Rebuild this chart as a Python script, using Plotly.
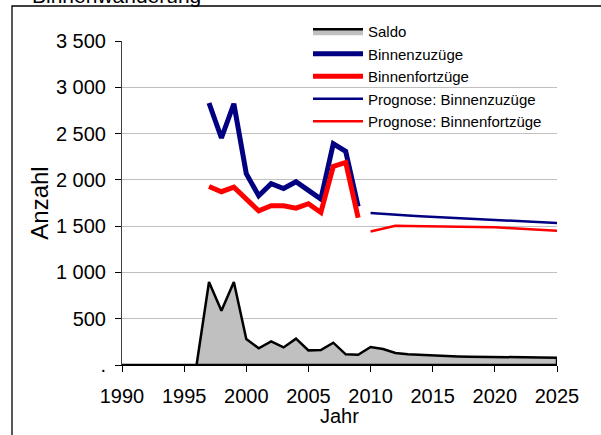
import plotly.graph_objects as go

years_saldo = list(range(1990, 2026))
saldo = [0, 0, 0, 0, 0, 0, 0, 896, 586, 896, 281, 180, 255, 190, 284, 158, 162, 241, 115, 111,
         194, 173, 130, 115, 108, 104, 98, 93, 90, 88, 86, 85, 83, 82, 80, 79]

years_hist = list(range(1997, 2010))
zuzuege = [2830, 2452, 2822, 2066, 1828, 1958, 1907, 1980, 1886, 1793, 2390, 2307, 1713]
fortzuege = [1929, 1872, 1922, 1795, 1665, 1720, 1720, 1695, 1742, 1648, 2145, 2188, 1590]

years_prog = list(range(2010, 2026))
prog_zuzuege = [1641, 1635, 1627, 1615, 1608, 1601, 1593, 1585, 1577, 1570, 1562, 1556, 1550, 1544, 1538, 1533]
prog_fortzuege = [1443, 1470, 1505, 1502, 1500, 1500, 1500, 1500, 1496, 1492, 1488, 1481, 1473, 1465, 1457, 1450]

y_tickvals = [0, 500, 1000, 1500, 2000, 2500, 3000, 3500]
y_ticktext = [".", "500", "1 000", "1 500", "2 000", "2 500", "3 000", "3 500"]
x_tickvals = [1990, 1995, 2000, 2005, 2010, 2015, 2020, 2025]

FONT = "Liberation Sans, Arial, sans-serif"

fig = go.Figure()
fig.add_trace(go.Scatter(
    x=years_saldo + [years_saldo[-1], years_saldo[0]],
    y=saldo + [0, 0],
    fill="toself", fillcolor="#c0c0c0",
    line=dict(color="black", width=2.5),
    mode="lines", name="Saldo"))
fig.add_trace(go.Scatter(x=years_hist, y=zuzuege, mode="lines", name="Binnenzuzüge",
                         line=dict(color="#000080", width=5)))
fig.add_trace(go.Scatter(x=years_hist, y=fortzuege, mode="lines", name="Binnenfortzüge",
                         line=dict(color="#ff0000", width=5)))
fig.add_trace(go.Scatter(x=years_prog, y=prog_zuzuege, mode="lines", name="Prognose: Binnenzuzüge",
                         line=dict(color="#000080", width=2.5)))
fig.add_trace(go.Scatter(x=years_prog, y=prog_fortzuege, mode="lines", name="Prognose: Binnenfortzüge",
                         line=dict(color="#ff0000", width=2.5)))

L, R, T, B = 122, 44, 41, 70
W, H = 601, 435
pw, ph = W - L - R, H - T - B

def px(x):
    return (x - L) / pw

def py(y):
    return (H - B - y) / ph

fig.update_layout(
    width=W, height=H,
    margin=dict(l=L, r=R, t=T, b=B),
    paper_bgcolor="white", plot_bgcolor="white",
    font=dict(family=FONT, size=20, color="black"),
    showlegend=True,
    legend=dict(x=px(308), y=py(15), xanchor="left", yanchor="top",
                bgcolor="rgba(0,0,0,0)", font=dict(size=15, family=FONT),
                itemwidth=50, traceorder="normal"),
    xaxis=dict(range=[1990, 2025], tickvals=x_tickvals, ticks="outside", ticklen=6,
               tickcolor="black", showgrid=False, showline=True, linecolor="black",
               linewidth=1, zeroline=False,
               ticklabelstandoff=7, tickfont=dict(size=20)),
    yaxis=dict(range=[0, 3500], tickvals=y_tickvals, ticktext=y_ticktext, ticks="outside",
               ticklen=6, tickcolor="black", showgrid=True, gridcolor="#c0c0c0", gridwidth=1,
               showline=True, linecolor="#404040", linewidth=1, zeroline=False,
               ticklabelstandoff=5,
               title=dict(text="Anzahl", standoff=0), tickfont=dict(size=20)),
    shapes=[
        dict(type="rect", xref="paper", yref="paper", x0=px(281), x1=px(600), y0=py(125), y1=py(12),
             fillcolor="white", line=dict(width=0), layer="between"),
        dict(type="rect", xref="paper", yref="paper", x0=px(12), x1=px(640), y0=py(470), y1=py(6),
             fillcolor="rgba(0,0,0,0)", line=dict(color="black", width=1.3), layer="above"),
    ],
    annotations=[
        dict(text="Binnenwanderung", xref="paper", yref="paper", x=px(30), y=py(-5),
             xanchor="left", yanchor="middle", showarrow=False, font=dict(size=21, family=FONT)),
        dict(text="Jahr", xref="paper", yref="paper", x=0.5, y=py(416),
             xanchor="center", yanchor="middle", showarrow=False, font=dict(size=20, family=FONT)),
    ],
)

fig.write_html("out.html", config={"displayModeBar": False},
               post_script="document.body.style.margin='0';")
